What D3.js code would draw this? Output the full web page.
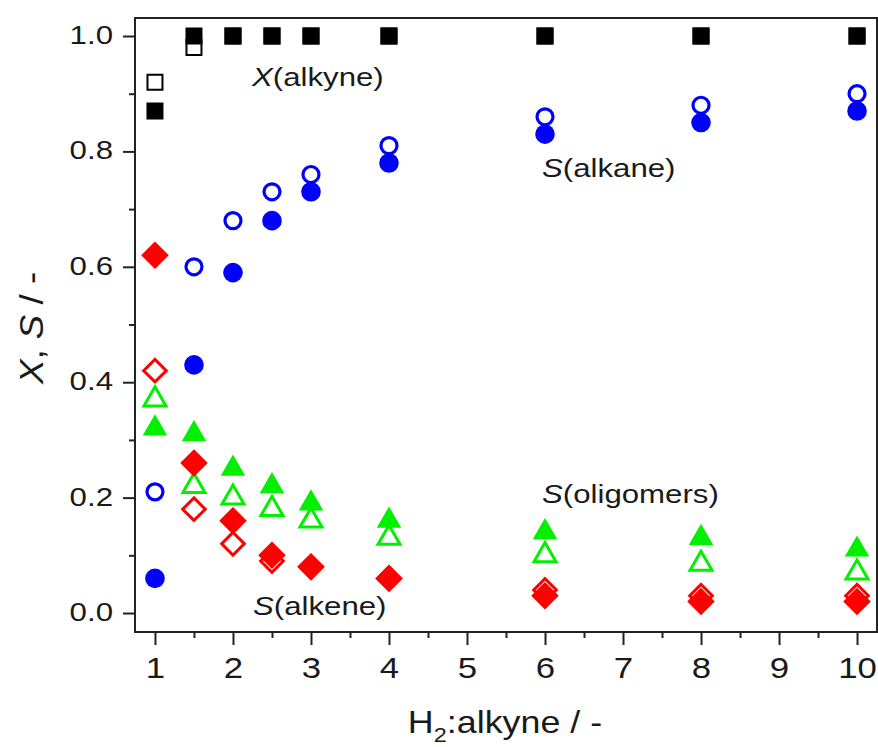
<!DOCTYPE html>
<html>
<head>
<meta charset="utf-8">
<script src="https://cdn.jsdelivr.net/npm/d3@7"></script>
<style>
  html, body { margin: 0; padding: 0; background: #ffffff; }
  svg { display: block; }
  text { font-family: "Liberation Sans", Arial, sans-serif; fill: #1a1a1a; }
</style>
</head>
<body>
<svg id="chart" width="878" height="747"></svg>
<script>
// H2:alkyne ratio (x positions shared by every series)
const ratio = [1, 1.5, 2, 2.5, 3, 4, 6, 8, 10];

// Alkyne conversion X (filled / open squares)
const convFilled = [0.87, 1.0, 1.0, 1.0, 1.0, 1.0, 1.0, 1.0, 1.0];
const convOpen   = [0.92, 0.98, 1.0, 1.0, 1.0, 1.0, 1.0, 1.0, 1.0];

// Alkane selectivity (filled / open circles)
const alkaneFilled = [0.06, 0.43, 0.59, 0.68, 0.73, 0.78, 0.83, 0.85, 0.87];
const alkaneOpen   = [0.21, 0.60, 0.68, 0.73, 0.76, 0.81, 0.86, 0.88, 0.90];

// Alkene selectivity (filled / open diamonds)
const alkeneFilled = [0.62, 0.26, 0.16, 0.10, 0.08, 0.06, 0.03, 0.02, 0.02];
const alkeneOpen   = [0.42, 0.18, 0.12, 0.09, 0.08, 0.06, 0.04, 0.03, 0.03];

// Oligomer selectivity (filled / open triangles)
const oligoFilled = [0.32, 0.31, 0.25, 0.22, 0.19, 0.16, 0.14, 0.13, 0.11];
const oligoOpen   = [0.37, 0.22, 0.20, 0.18, 0.16, 0.13, 0.10, 0.085, 0.07];

// Axis ticks
const xMajor = [1, 2, 3, 4, 5, 6, 7, 8, 9, 10];
const xMinor = [1.5, 2.5, 3.5, 4.5, 5.5, 6.5, 7.5, 8.5, 9.5];
const yMajor = [0, 0.2, 0.4, 0.6, 0.8, 1.0];
const yMinor = [0.1, 0.3, 0.5, 0.7, 0.9];

const svg = d3.select("#chart");
const margin = { top: 18, left: 135, right: 1, bottom: 115 };
const W = 878 - margin.left - margin.right;
const H = 747 - margin.top - margin.bottom;

const x = d3.scaleLinear().domain([0.744, 10.256]).range([0, W]);
const y = d3.scaleLinear().domain([-0.0329, 1.0312]).range([H, 0]);

const g = svg.append("g").attr("transform", `translate(${margin.left},${margin.top})`);

const AXIS = "#222";

// Minor ticks
g.append("g").attr("transform", `translate(0,${H})`)
  .call(d3.axisBottom(x).tickValues(xMinor).tickSize(6).tickFormat(""))
  .call(a => a.select(".domain").remove())
  .call(a => a.selectAll("line").attr("stroke", AXIS).attr("stroke-width", 2));
g.append("g")
  .call(d3.axisLeft(y).tickValues(yMinor).tickSize(6).tickFormat(""))
  .call(a => a.select(".domain").remove())
  .call(a => a.selectAll("line").attr("stroke", AXIS).attr("stroke-width", 2));

// Major ticks with labels
const xAxis = g.append("g").attr("transform", `translate(0,${H})`)
  .call(d3.axisBottom(x).tickValues(xMajor).tickSize(13).tickFormat(d3.format("d")));
xAxis.select(".domain").remove();
xAxis.selectAll("line").attr("stroke", AXIS).attr("stroke-width", 2);
xAxis.selectAll("text")
  .attr("y", 46).attr("dy", 0)
  .attr("transform", "scale(1.2,1)")
  .style("font-size", "29px").style("fill", "#1a1a1a");

const yAxis = g.append("g")
  .call(d3.axisLeft(y).tickValues(yMajor).tickSize(12).tickFormat(d3.format(".1f")));
yAxis.select(".domain").remove();
yAxis.selectAll("line").attr("stroke", AXIS).attr("stroke-width", 2);
yAxis.selectAll("text")
  .attr("x", -22 / 1.25).attr("dy", "0.3em")
  .attr("transform", "scale(1.25,1)")
  .style("font-size", "25px").style("fill", "#1a1a1a");

// Frame around the plot area
g.append("rect")
  .attr("x", 0).attr("y", 0).attr("width", W).attr("height", H)
  .attr("fill", "none").attr("stroke", AXIS).attr("stroke-width", 2);

// Marker shapes
const sq = d3.symbol().type(d3.symbolSquare);
const circ = d3.symbol().type(d3.symbolCircle);
const tri = d3.symbol().type(d3.symbolTriangle);

function drawSeries(vals, pathFn, style, rot) {
  g.append("g").selectAll("path")
    .data(vals.map((v, i) => [ratio[i], v]))
    .join("path")
    .attr("d", pathFn)
    .attr("transform", d => `translate(${x(d[0])},${y(d[1])})` + (rot ? ` rotate(${rot})` : ""))
    .attr("fill", style.fill)
    .attr("stroke", style.stroke || "none")
    .attr("stroke-width", style.sw || 0);
}

const BLUE = "#0000ff", RED = "#ff0000", GREEN = "#00f000";

// Open markers first, filled markers drawn over them
drawSeries(convOpen, sq.size(15 * 15)(), { fill: "#fff", stroke: "#000", sw: 2 });
drawSeries(alkaneOpen, circ.size(Math.PI * 8 * 8)(), { fill: "#fff", stroke: BLUE, sw: 3.2 });
drawSeries(alkeneOpen, sq.size(16 * 16)(), { fill: "#fff", stroke: RED, sw: 3 }, 45);
drawSeries(oligoOpen, tri.size(210)(), { fill: "#fff", stroke: GREEN, sw: 3 });

drawSeries(convFilled, sq.size(17 * 17)(), { fill: "#000" });
drawSeries(alkaneFilled, circ.size(Math.PI * 9.8 * 9.8)(), { fill: BLUE });
drawSeries(alkeneFilled, sq.size(19.5 * 19.5)(), { fill: RED }, 45);
drawSeries(oligoFilled, tri.size(260)(), { fill: GREEN });

// Series annotations
function note(px, py, italic, rest) {
  const t = svg.append("text")
    .attr("transform", `translate(${px},${py}) scale(1.2,1)`)
    .style("font-size", "26px");
  t.append("tspan").style("font-style", "italic").text(italic);
  t.append("tspan").text(rest);
}
note(252, 86, "X", "(alkyne)");
note(542, 177, "S", "(alkane)");
note(542, 503, "S", "(oligomers)");
note(253, 615, "S", "(alkene)");

// Axis titles
const xt = svg.append("text")
  .attr("transform", "translate(505,733) scale(1.12,1)")
  .attr("text-anchor", "middle")
  .style("font-size", "32px");
xt.append("tspan").text("H");
xt.append("tspan").attr("dy", 9).style("font-size", "21px").text("2");
xt.append("tspan").attr("dy", -9).text(":alkyne / -");

const yt = svg.append("text")
  .attr("transform", "translate(43,328) rotate(-90) scale(1.08,1)")
  .attr("text-anchor", "middle")
  .style("font-size", "34px");
yt.append("tspan").style("font-style", "italic").text("X");
yt.append("tspan").text(", ");
yt.append("tspan").style("font-style", "italic").text("S");
yt.append("tspan").text(" / -");
</script>
</body>
</html>
